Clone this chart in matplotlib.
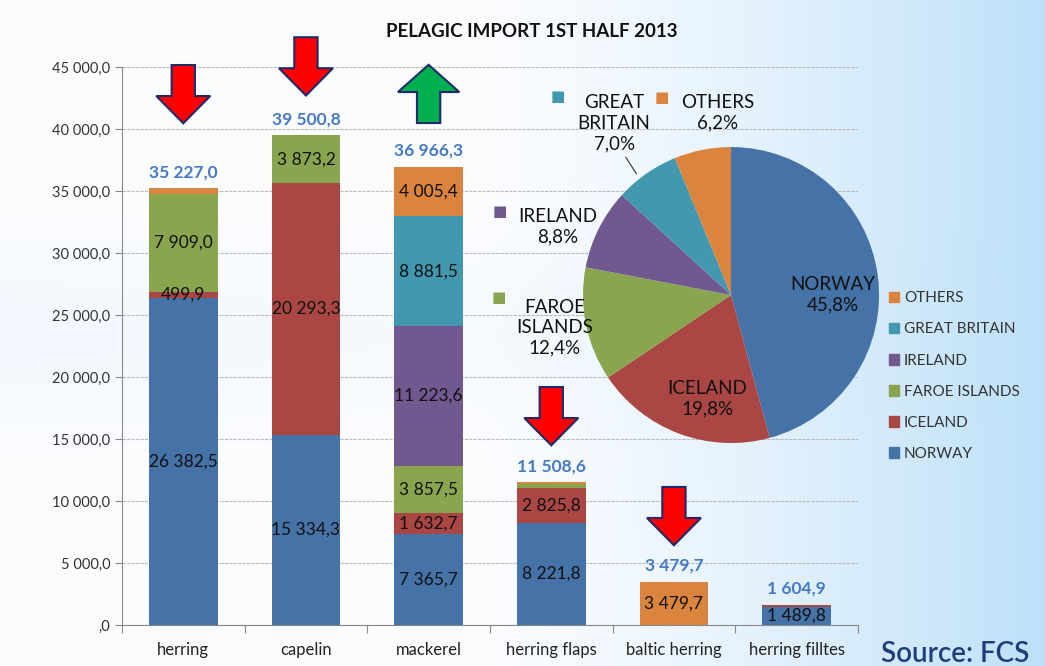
import numpy as np
import matplotlib
matplotlib.use("Agg")
import matplotlib.pyplot as plt
from matplotlib.patches import FancyArrow, Patch

plt.rcParams['font.family'] = ['Lato', 'DejaVu Sans']

# data
categories = ["herring", "capelin", "mackerel", "herring flaps", "baltic herring", "herring filltes"]
countries = ["NORWAY", "ICELAND", "FAROE ISLANDS", "IRELAND", "GREAT BRITAIN", "OTHERS"]
norway = [26382.5, 15334.3, 7365.7, 8221.8, 0, 1489.8]
iceland = [499.9, 20293.3, 1632.7, 2825.8, 0, 115.1]
faroe = [7909.0, 3873.2, 3857.5, 340.0, 0, 0]
ireland = [0, 0, 11223.6, 0, 0, 0]
britain = [0, 0, 8881.5, 0, 0, 0]
others = [435.6, 0, 4005.4, 121.0, 3479.7, 0]
totals = [35227.0, 39500.8, 36966.3, 11508.6, 3479.7, 1604.9]
trend = ["down", "down", "up", "down", "down", None]
arrow_top = [45160, 47400, 45160, 19190, 11130, None]

pie_labels = ["NORWAY", "ICELAND", "FAROE\nISLANDS", "IRELAND", "GREAT\nBRITAIN", "OTHERS"]
pie_share = [45.8, 19.8, 12.4, 8.8, 7.0, 6.2]

colors = ["#4572A7", "#AA4643", "#89A54E", "#71588F", "#4198AF", "#DB843D"]


def fmt(v):
    s = "{:,.1f}".format(v).replace(",", " ").replace(".", ",")
    if s.startswith("0,"):
        s = s[1:]
    return s


fig = plt.figure(figsize=(10.45, 6.66), dpi=100)

# background gradient
bg = fig.add_axes([0, 0, 1, 1], zorder=-10)
xx, yy = np.meshgrid(np.linspace(0, 1, 300), np.linspace(0, 1, 200))
t = np.clip((xx - 0.45) / 0.55, 0, 1) ** 1.4 * 0.85 + 0.12 * np.exp(-((yy - 0.5) / 0.12) ** 2) * (1 - xx)
t = np.clip(t, 0, 1)
c0 = np.array([0.985, 0.99, 1.0])
c1 = np.array([0.70, 0.86, 0.97])
img = c0[None, None, :] * (1 - t[..., None]) + c1[None, None, :] * t[..., None]
bg.imshow(img, aspect="auto", extent=[0, 1, 0, 1])
bg.axis("off")

ax = fig.add_axes([0.1167, 0.0616, 0.7043, 0.8378])
ax.patch.set_alpha(0)
x = np.arange(len(categories))
series = [norway, iceland, faroe, ireland, britain, others]
bottom = np.zeros(len(categories))
for vals, col in zip(series, colors):
    vals = np.array(vals)
    ax.bar(x, vals, 0.56, bottom=bottom, color=col, zorder=2)
    for i, v in enumerate(vals):
        if v >= 450:
            ax.text(x[i], bottom[i] + v / 2, fmt(v), ha="center", va="center",
                    fontsize=12.5, color="#111111", zorder=3)
    bottom += vals

for i, tot in enumerate(totals):
    ax.text(x[i], tot + 650, fmt(tot), ha="center", va="bottom", fontsize=12.5,
            fontweight="bold", color="#4479C6", zorder=3)

# trend arrows
for i, d in enumerate(trend):
    if d is None:
        continue
    if d == "down":
        ax.add_patch(FancyArrow(x[i], arrow_top[i], 0, -4700, width=0.19, head_width=0.44,
                                head_length=2200, length_includes_head=True,
                                facecolor="#FF0000", edgecolor="#1F2A6B", lw=1.5,
                                clip_on=False, zorder=4))
    else:
        ax.add_patch(FancyArrow(x[i], arrow_top[i] - 4680, 0, 4700, width=0.19, head_width=0.5,
                                head_length=2200, length_includes_head=True,
                                facecolor="#00B050", edgecolor="#1F2A6B", lw=1.5,
                                clip_on=False, zorder=4))

ax.set_xlim(-0.5, 5.5)
ax.set_ylim(0, 45000)
ax.set_yticks(np.arange(0, 45001, 5000))
ax.set_yticklabels([fmt(v) for v in np.arange(0, 45001, 5000)], fontsize=10.5, color="#333333")
ax.yaxis.grid(True, color="#BBBBBB", lw=0.8, ls=(0, (3, 1)), zorder=0)
ax.set_xticks(np.arange(-0.5, 6.0, 1))
ax.set_xticklabels([])
ax.set_xticks(x, minor=True)
ax.set_xticklabels(categories, minor=True, fontsize=12, color="#222222")
ax.tick_params(axis="x", which="minor", length=0, pad=12)
ax.tick_params(axis="x", which="major", length=6, color="#888888")
ax.tick_params(axis="y", length=5, color="#888888")
for s in ["top", "right"]:
    ax.spines[s].set_visible(False)
ax.spines["left"].set_color("#888888")
ax.spines["bottom"].set_color("#888888")

fig.text(0.509, 0.952, "PELAGIC IMPORT 1ST HALF 2013", ha="center", va="center",
         fontsize=13.5, fontweight="bold", color="#111111")

# pie
pax = fig.add_axes([0.5579, 0.3348, 0.2833, 0.4444])
pax.pie(pie_share, colors=colors, startangle=90, counterclock=False)
pax.set_aspect("auto")
pax.set_xlim(-1, 1)
pax.set_ylim(-1, 1)

def lbl(i, tx, ty, sq=None):
    pax.text(tx, ty, pie_labels[i] + "\n" + fmt(pie_share[i]) + "%", ha="center",
             va="center", fontsize=13.5, color="#111111", linespacing=1.25)
    if sq is not None:
        pax.text(sq[0], sq[1], "\u25A0", ha="center", va="center", fontsize=11,
                 color=colors[i])

lbl(0, 0.69, 0.0)
lbl(1, -0.16, -0.70)
lbl(2, -1.19, -0.22, (-1.57, -0.02))
lbl(3, -1.17, 0.46, (-1.56, 0.56))
lbl(4, -0.79, 1.16, (-1.17, 1.34))
lbl(5, -0.09, 1.23, (-0.47, 1.33))
pax.plot([-0.71, -0.64], [0.93, 0.82], color="#333333", lw=0.8, clip_on=False)

handles = [Patch(color=c) for c in colors][::-1]
fig.legend(handles, countries[::-1], loc="upper left", bbox_to_anchor=(0.843, 0.574),
           frameon=False, fontsize=11, handlelength=0.7, handleheight=0.7,
           handletextpad=0.3, labelspacing=1.12, borderpad=0, labelcolor="#333333")

fig.text(0.843, 0.006, "Source: FCS", fontsize=20, color="#1F3D7A", ha="left", va="baseline",
         fontweight="semibold")

plt.savefig("out.png", dpi=100)
